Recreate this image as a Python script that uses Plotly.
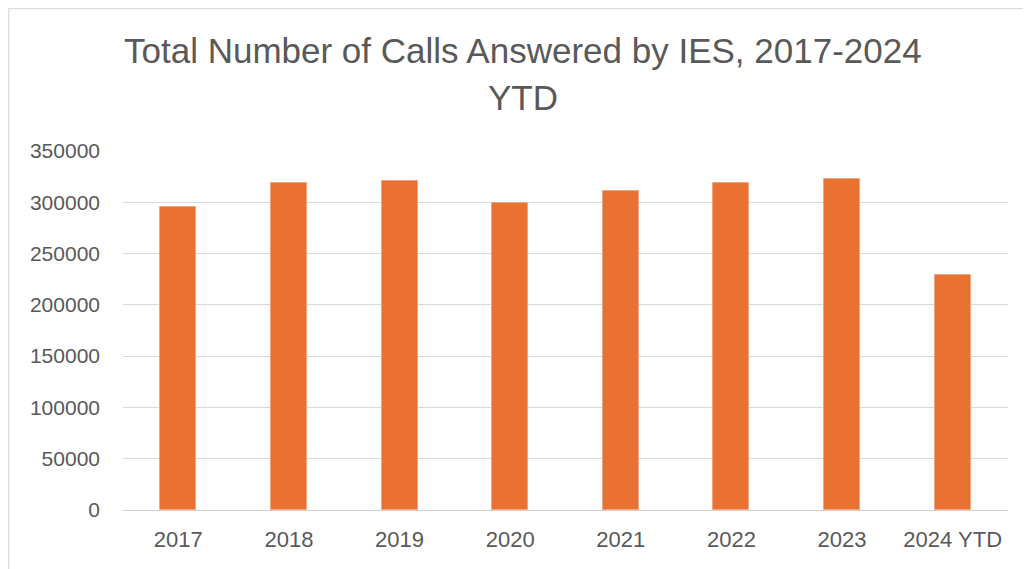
import plotly.graph_objects as go

categories = ["2017", "2018", "2019", "2020", "2021", "2022", "2023", "2024 YTD"]
calls = [295000, 319000, 321000, 299000, 311000, 319000, 323000, 229000]
y_ticks = [0, 50000, 100000, 150000, 200000, 250000, 300000, 350000]
title_lines = ["Total Number of Calls Answered by IES, 2017-2024", "YTD"]

# page body has an 8px margin; compensate so the chart lands where the reference is
OFF = 8
W, H = 1031 - OFF, 569 - OFF
ml, mr, mt, mb = 123 - OFF, 23, 151 - OFF, 59

fig = go.Figure(go.Bar(
    x=categories, y=calls,
    marker=dict(color="#E97132", line=dict(color="#F2A57C", width=1)),
    width=0.325,
))

font_family = "Liberation Sans, Arial, sans-serif"

fig.update_layout(
    width=W, height=H,
    margin=dict(l=ml, r=mr, t=mt, b=mb, autoexpand=False),
    paper_bgcolor="white", plot_bgcolor="white",
    showlegend=False,
    font=dict(family=font_family, color="#595959", size=21),
    bargap=0,
)
fig.update_xaxes(
    showgrid=False, showline=True, linecolor="#D0D0D0", linewidth=1,
    ticks="", ticklabelstandoff=10, tickfont=dict(size=22, color="#595959"),
)
fig.update_yaxes(
    range=[0, 350000], tickvals=y_ticks, ticktext=[str(v) for v in y_ticks],
    showgrid=True, gridcolor="#D9D9D9", gridwidth=1,
    zeroline=False, showline=False, ticks="", ticklabelstandoff=22,
    tickfont=dict(size=21, color="#595959"),
)

pw, ph = W - ml - mr, H - mt - mb

# Title as two centered lines (reference pixel centres)
title_y_px = [50, 97]
for line, ypx in zip(title_lines, title_y_px):
    fig.add_annotation(
        text=line, xref="paper", yref="paper",
        x=(523 - 123) / pw,
        y=(569 - mb - ypx) / ph,
        yanchor="middle", xanchor="center", showarrow=False,
        font=dict(size=35, color="#595959", family=font_family),
    )

# Chart frame: light left and top edges only
x_left = (0.5 - ml) / pw
x_right = 1 + mr / pw
y_top = 1 + (mt - 0.5) / ph
y_bot = -mb / ph
fig.add_shape(type="line", xref="paper", yref="paper",
              x0=x_left, x1=x_left, y0=y_bot, y1=y_top,
              line=dict(color="#DCDCDC", width=1.5), layer="below")
fig.add_shape(type="line", xref="paper", yref="paper",
              x0=x_left, x1=x_right, y0=y_top, y1=y_top,
              line=dict(color="#DCDCDC", width=1.5), layer="below")

fig.write_html("out.html")
